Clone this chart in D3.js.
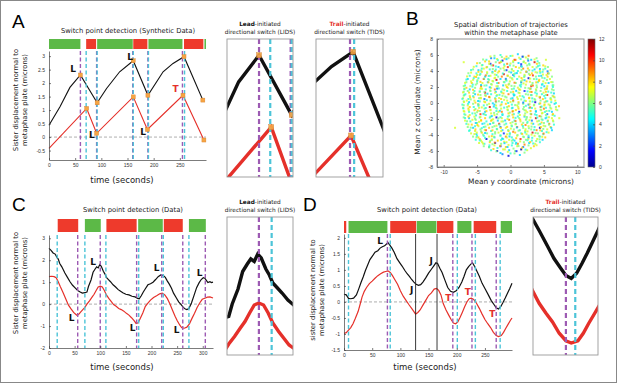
<!DOCTYPE html>
<html>
<head>
<meta charset="utf-8">
<script src="https://cdn.jsdelivr.net/npm/d3@7"></script>
<style>
  body { margin: 0; background: #fff; }
  svg { font-family: "DejaVu Sans", Verdana, sans-serif; }
  .axis text { font-size: 5px; fill: #333; }
  .axis path, .axis line { stroke: #444; stroke-width: 0.7; }
</style>
</head>
<body>
<svg id="fig" width="617" height="383"></svg>
<script>
// ---------- Panel A : synthetic trajectories ----------
var aBlackT = [0, 21, 40, 60, 92, 110, 135, 161, 189, 218, 237, 258, 294];
var aBlackY = [0.44, 1.12, 1.84, 2.3, 1.27, 1.8, 2.42, 2.83, 1.55, 2.42, 2.73, 2.98, 1.37];
var aRedT = [0, 72, 91, 161, 188, 256, 296];
var aRedY = [-0.42, 1.06, 0.14, 1.49, 0.28, 1.55, -0.11];
var aBlackMarkT = [60, 92, 161, 189, 258, 294];
var aRedMarkT = [72, 91, 161, 188, 256, 296];
var aPurple = [60, 91, 160, 189, 255];
var aCyan = [71, 92, 161, 190, 259];
var aBars = [[0, 60, "g"], [71, 90, "r"], [92, 160, "g"], [161, 188, "r"], [190, 255, "g"], [258, 295, "r"], [297, 300, "g"]];
var aLabels = [[46, 2.52, "L", "k"], [155, 2.96, "L", "k"], [82, 0.07, "L", "k"], [180, 0.19, "L", "k"], [242, 1.78, "T", "r"]];
var aXTicks = [0, 50, 100, 150, 200, 250];
var aYTicks = [-0.5, 0, 0.5, 1, 1.5, 2, 2.5, 3];

// ---------- Panel C : data, LIDS ----------
var cBlackT = [0, 4, 8, 12, 15, 18, 21, 25, 31, 36, 41, 46, 51, 56, 60, 65, 70, 74, 77, 82, 86, 90, 93, 96, 99, 102, 106, 109, 112, 116, 120, 125, 130, 135, 139, 144, 150, 156, 162, 168, 173, 176, 180, 184, 188, 193, 198, 203, 208, 213, 218, 223, 227, 231, 235, 239, 243, 248, 253, 257, 262, 266, 269, 273, 278, 283, 288, 293, 297, 301, 304, 307, 310, 314, 317, 320];
var cBlackY = [2.54, 2.45, 2.33, 2.28, 2.15, 2.05, 1.85, 1.7, 1.42, 1.22, 1.02, 0.86, 0.74, 0.62, 0.56, 0.5, 0.52, 0.55, 0.8, 1.1, 1.45, 1.6, 1.7, 1.65, 1.8, 1.72, 1.5, 1.38, 1.22, 1.12, 1.02, 0.88, 0.78, 0.66, 0.6, 0.52, 0.45, 0.42, 0.36, 0.33, 0.26, 0.24, 0.38, 0.55, 0.7, 0.88, 0.93, 1.0, 1.12, 1.25, 1.33, 1.3, 1.22, 1.05, 0.9, 0.72, 0.5, 0.3, 0.1, 0.0, -0.15, -0.22, -0.25, -0.2, 0.05, 0.4, 0.75, 0.98, 1.12, 1.2, 1.18, 1.08, 0.98, 1.02, 0.98, 1.0];
var cRedT = [0, 5, 10, 14, 18, 22, 28, 33, 38, 43, 48, 52, 55, 58, 62, 66, 70, 74, 79, 84, 88, 92, 96, 100, 104, 108, 112, 117, 122, 126, 131, 136, 141, 146, 151, 156, 161, 166, 170, 174, 178, 183, 188, 193, 198, 204, 210, 216, 221, 226, 231, 236, 241, 246, 250, 255, 259, 264, 269, 274, 279, 284, 289, 294, 299, 304, 309, 314, 320];
var cRedY = [1.25, 1.27, 1.25, 1.2, 1.02, 0.8, 0.5, 0.22, -0.05, -0.22, -0.38, -0.46, -0.52, -0.47, -0.35, -0.25, -0.15, 0.0, 0.15, 0.32, 0.45, 0.62, 0.78, 0.82, 0.78, 0.62, 0.42, 0.25, 0.1, -0.02, -0.1, -0.2, -0.25, -0.32, -0.42, -0.5, -0.62, -0.75, -0.88, -0.85, -0.65, -0.4, -0.1, 0.05, 0.18, 0.3, 0.38, 0.47, 0.5, 0.42, 0.25, 0.0, -0.28, -0.55, -0.75, -0.95, -1.08, -1.1, -1.05, -0.9, -0.65, -0.42, -0.15, 0.05, 0.22, 0.27, 0.32, 0.33, 0.28];
var cPurple = [56, 100, 171, 220, 261, 305];
var cCyan = [16, 70, 111, 175, 223, 273];
var cBars = [[17, 57, "r"], [70, 101, "g"], [112, 171, "r"], [174, 222, "g"], [224, 261, "r"], [273, 306, "g"]];
var cLabels = [[86, 1.93, "L", "k"], [44, -0.64, "L", "k"], [163, -1.08, "L", "k"], [210, 1.63, "L", "k"], [249, -1.19, "L", "k"], [294, 1.4, "L", "k"]];
var cXTicks = [0, 50, 100, 150, 200, 250, 300];
var cYTicks = [-2, -1, 0, 1, 2, 3];

// ---------- Panel D : data, TIDS ----------
var dBlackT = [0, 4, 8, 12, 17, 22, 26, 30, 34, 38, 42, 46, 50, 55, 60, 64, 68, 72, 75, 78, 81, 85, 89, 94, 99, 103, 108, 112, 116, 120, 124, 128, 132, 136, 140, 145, 150, 155, 159, 163, 166, 170, 174, 179, 184, 189, 194, 199, 204, 209, 213, 217, 221, 225, 228, 232, 236, 240, 245, 250, 256, 261, 266, 270, 274, 278, 282, 286, 290, 294, 298];
var dBlackY = [0.24, 0.22, 0.11, 0.1, 0.12, 0.22, 0.4, 0.6, 0.78, 0.98, 1.15, 1.32, 1.42, 1.55, 1.6, 1.68, 1.72, 1.75, 1.8, 1.85, 1.78, 1.68, 1.55, 1.35, 1.22, 1.12, 0.98, 0.88, 0.8, 0.7, 0.62, 0.55, 0.52, 0.54, 0.62, 0.75, 0.9, 1.02, 1.12, 1.22, 1.2, 1.05, 0.92, 0.68, 0.45, 0.33, 0.3, 0.35, 0.45, 0.62, 0.8, 1.0, 1.1, 1.18, 1.22, 1.1, 0.95, 0.8, 0.58, 0.42, 0.22, 0.05, -0.08, -0.18, -0.22, -0.15, -0.02, 0.12, 0.27, 0.42, 0.58];
var dRedT = [0, 4, 8, 12, 16, 20, 25, 29, 32, 36, 40, 45, 50, 55, 60, 65, 70, 74, 78, 82, 86, 90, 95, 100, 105, 110, 115, 120, 124, 127, 131, 135, 140, 145, 150, 155, 160, 164, 168, 172, 176, 181, 186, 190, 194, 198, 202, 206, 210, 214, 218, 222, 226, 230, 235, 240, 245, 250, 255, 260, 265, 270, 274, 279, 283, 287, 291, 295, 298];
var dRedY = [-0.98, -0.96, -0.88, -0.8, -0.68, -0.52, -0.3, -0.05, 0.15, 0.33, 0.45, 0.57, 0.65, 0.74, 0.82, 0.88, 0.93, 0.95, 0.97, 0.92, 0.82, 0.7, 0.55, 0.35, 0.18, 0.05, -0.08, -0.2, -0.3, -0.38, -0.33, -0.25, -0.1, 0.05, 0.2, 0.28, 0.4, 0.42, 0.36, 0.22, -0.05, -0.25, -0.42, -0.55, -0.66, -0.68, -0.62, -0.48, -0.32, -0.15, 0.0, 0.1, 0.12, 0.08, -0.04, -0.2, -0.38, -0.55, -0.68, -0.8, -0.95, -1.05, -1.08, -1.05, -0.95, -0.82, -0.7, -0.58, -0.5];
var dPurple = [77, 193, 227, 270];
var dCyan = [8, 82, 201, 233, 277];
var dSolid = [127, 165];
var dBars = [[0, 4, "r"], [8, 77, "g"], [82, 128, "r"], [129, 164, "g"], [165, 194, "r"], [201, 226, "g"], [230, 270, "r"], [278, 298, "g"]];
var dLabels = [[64, 1.9, "L", "k"], [120, 0.37, "J", "k"], [154.5, 1.28, "J", "k"], [185, 0.13, "T", "r"], [219.5, 0.3, "T", "r"], [263, -0.38, "T", "r"]];
var dXTicks = [0, 50, 100, 150, 200, 250];
var dYTicks = [-1.5, -1, -0.5, 0, 0.5, 1, 1.5, 2];

// ---------- Panel B : mean y, mean z, colour value ----------
var bPoints = [
  [-2.4,5.9,6],[-1.5,6.0,5],[-0.6,5.8,8],[0.3,5.9,7],[1.1,6.1,4],[1.9,5.8,6],[2.7,5.9,9],
  [-3.6,5.4,5],[-2.9,5.6,3],[-2.0,5.5,7],[-1.2,5.3,1],[-0.3,5.6,6],[0.6,5.4,10],[1.5,5.5,5],[2.3,5.7,7],[3.1,5.4,4],[3.9,5.6,6],
  [-7.0,5.1,7],[-4.6,5.0,6],[-3.8,5.2,8],[-3.0,4.9,2],[-2.2,5.1,6],[-1.4,5.2,5],[-0.5,4.9,9],[0.4,5.1,6],[1.2,5.0,4],[2.0,5.2,7],[2.8,4.9,5],[3.6,5.1,11],[4.3,5.0,6],[5.3,5.4,7],
  [-5.1,4.6,5],[-4.3,4.7,7],[-3.5,4.5,6],[-2.6,4.7,10],[-1.8,4.5,4],[-0.9,4.6,7],[-0.1,4.7,5],[0.8,4.5,8],[1.6,4.6,3],[2.5,4.7,6],[3.3,4.5,7],[4.1,4.6,5],[4.9,4.7,8],[5.6,4.5,6],
  [-5.6,4.2,6],[-4.8,4.1,4],[-4.0,4.3,7],[-3.1,4.2,5],[-2.3,4.0,8],[-1.5,4.3,6],[-0.6,4.1,2],[0.2,4.2,7],[1.1,4.0,5],[1.9,4.3,9],[2.8,4.1,6],[3.6,4.2,4],[4.4,4.0,7],[5.2,4.3,5],[6.0,4.1,7],
  [-5.9,3.8,7],[-5.1,3.7,5],[-4.3,3.9,8],[-3.5,3.7,6],[-2.7,3.9,4],[-1.9,3.8,7],[-1.0,3.6,11],[-0.2,3.9,6],[0.7,3.7,5],[1.5,3.8,7],[2.4,3.9,3],[3.2,3.7,8],[4.0,3.8,6],[4.8,3.9,5],[5.6,3.7,9],
  [-6.1,3.4,5],[-5.4,3.3,8],[-4.6,3.5,6],[-3.8,3.3,4],[-3.0,3.4,7],[-2.1,3.5,5],[-1.3,3.3,9],[-0.4,3.4,6],[0.4,3.5,3],[1.3,3.3,7],[2.1,3.4,5],[2.9,3.5,8],[3.8,3.3,6],[4.6,3.4,4],[5.4,3.5,7],[6.2,3.3,6],
  [-6.4,3.0,4],[-5.6,2.9,7],[-4.8,3.1,5],[-4.0,3.0,10],[-3.2,2.9,6],[-2.4,3.1,7],[-1.5,3.0,4],[-0.7,2.9,8],[0.2,3.1,6],[1.0,3.0,5],[1.8,2.9,7],[2.7,3.1,1],[3.5,3.0,6],[4.3,2.9,8],[5.1,3.1,5],[5.9,3.0,7],
  [-6.6,2.6,6],[-5.8,2.5,8],[-5.0,2.7,5],[-4.2,2.5,7],[-3.4,2.6,4],[-2.6,2.7,6],[-1.8,2.5,9],[-0.9,2.6,5],[-0.1,2.7,7],[0.8,2.5,6],[1.6,2.6,3],[2.4,2.7,8],[3.3,2.5,6],[4.1,2.6,5],[4.9,2.7,7],[5.7,2.5,4],[6.3,2.6,6],
  [-6.8,2.2,5],[-6.0,2.1,7],[-5.2,2.3,6],[-4.4,2.1,9],[-3.6,2.2,5],[-2.8,2.3,7],[-1.9,2.1,6],[-1.1,2.2,4],[-0.3,2.3,8],[0.6,2.1,6],[1.4,2.2,5],[2.3,2.3,7],[3.1,2.1,10],[3.9,2.2,6],[4.7,2.3,4],[5.5,2.1,7],[6.3,2.2,5],
  [-6.9,1.8,7],[-6.1,1.7,4],[-5.3,1.9,6],[-4.5,1.8,8],[-3.7,1.7,5],[-2.9,1.9,7],[-2.0,1.8,3],[-1.2,1.7,6],[-0.4,1.9,7],[0.5,1.8,5],[1.3,1.7,8],[2.2,1.9,6],[3.0,1.8,4],[3.8,1.7,7],[4.6,1.9,5],[5.4,1.8,9],[6.2,1.7,6],
  [-7.0,1.4,6],[-6.2,1.3,8],[-5.4,1.5,5],[-4.6,1.4,7],[-3.8,1.3,11],[-3.0,1.5,6],[-2.2,1.4,4],[-1.3,1.3,7],[-0.5,1.5,5],[0.4,1.4,8],[1.2,1.3,6],[2.1,1.5,2],[2.9,1.4,7],[3.7,1.3,5],[4.5,1.5,6],[5.3,1.4,8],[6.1,1.3,5],
  [-6.9,1.0,5],[-6.1,0.9,7],[-5.3,1.1,4],[-4.5,1.0,6],[-3.7,0.9,8],[-2.9,1.1,5],[-2.0,1.0,7],[-1.2,0.9,6],[-0.3,1.1,9],[0.6,1.0,5],[1.4,0.9,7],[2.3,1.1,6],[3.1,1.0,4],[3.9,0.9,7],[4.7,1.1,5],[5.5,1.0,10],[6.3,0.9,6],
  [-7.1,0.6,7],[-6.3,0.5,5],[-5.5,0.7,8],[-4.7,0.6,6],[-3.9,0.5,3],[-3.1,0.7,7],[-2.3,0.6,5],[-1.4,0.5,8],[-0.6,0.7,6],[0.3,0.6,4],[1.1,0.5,7],[2.0,0.7,5],[2.8,0.6,8],[3.6,0.5,6],[4.4,0.7,11],[5.2,0.6,5],[6.0,0.5,7],[6.6,0.7,6],
  [-7.0,0.2,6],[-6.2,0.1,4],[-5.4,0.3,7],[-4.6,0.2,5],[-3.8,0.1,8],[-3.0,0.3,6],[-2.2,0.2,10],[-1.3,0.1,5],[-0.5,0.3,7],[0.4,0.2,6],[1.2,0.1,8],[2.1,0.3,5],[2.9,0.2,7],[3.7,0.1,1],[4.5,0.3,6],[5.3,0.2,8],[6.1,0.1,5],[6.7,0.3,7],
  [-7.2,-0.2,5],[-6.4,-0.3,7],[-5.6,-0.1,6],[-4.8,-0.2,9],[-4.0,-0.3,5],[-3.2,-0.1,7],[-2.4,-0.2,4],[-1.5,-0.3,6],[-0.7,-0.1,8],[0.2,-0.2,5],[1.0,-0.3,7],[1.9,-0.1,6],[2.7,-0.2,3],[3.5,-0.3,7],[4.3,-0.1,5],[5.1,-0.2,8],[5.9,-0.3,6],[6.6,-0.1,4],
  [-7.1,-0.6,6],[-6.3,-0.7,8],[-5.5,-0.5,5],[-4.7,-0.6,7],[-3.9,-0.7,6],[-3.1,-0.5,11],[-2.2,-0.6,5],[-1.4,-0.7,7],[-0.5,-0.5,6],[0.3,-0.6,4],[1.2,-0.7,8],[2.0,-0.5,6],[2.8,-0.6,5],[3.7,-0.7,7],[4.5,-0.5,9],[5.3,-0.6,5],[6.1,-0.7,7],[6.8,-0.5,6],
  [-7.0,-1.0,7],[-6.2,-1.1,5],[-5.4,-0.9,8],[-4.6,-1.0,6],[-3.8,-1.1,4],[-3.0,-0.9,7],[-2.1,-1.0,5],[-1.3,-1.1,9],[-0.4,-0.9,6],[0.4,-1.0,7],[1.3,-1.1,2],[2.1,-0.9,6],[3.0,-1.0,8],[3.8,-1.1,5],[4.6,-0.9,7],[5.4,-1.0,6],[6.2,-1.1,4],[7.0,-0.9,6],
  [-6.9,-1.4,5],[-6.1,-1.5,7],[-5.3,-1.3,6],[-4.5,-1.4,10],[-3.7,-1.5,5],[-2.9,-1.3,7],[-2.0,-1.4,6],[-1.2,-1.5,4],[-0.3,-1.3,8],[0.5,-1.4,5],[1.4,-1.5,7],[2.2,-1.3,6],[3.1,-1.4,9],[3.9,-1.5,5],[4.7,-1.3,7],[5.5,-1.4,3],[6.3,-1.5,6],[7.3,-1.9,7],
  [-7.0,-1.8,6],[-6.2,-1.9,4],[-5.4,-1.7,7],[-4.6,-1.8,5],[-3.8,-1.9,8],[-3.0,-1.7,6],[-2.1,-1.8,1],[-1.3,-1.9,7],[-0.4,-1.7,5],[0.4,-1.8,8],[1.3,-1.9,6],[2.1,-1.7,4],[3.0,-1.8,7],[3.8,-1.9,11],[4.6,-1.7,6],[5.4,-1.8,5],[6.2,-1.9,7],
  [-6.8,-2.2,7],[-6.0,-2.3,5],[-5.2,-2.1,6],[-4.4,-2.2,8],[-3.6,-2.3,5],[-2.8,-2.1,7],[-1.9,-2.2,4],[-1.1,-2.3,6],[-0.2,-2.1,9],[0.6,-2.2,5],[1.5,-2.3,7],[2.3,-2.1,6],[3.2,-2.2,3],[4.0,-2.3,7],[4.8,-2.1,5],[5.6,-2.2,8],[6.4,-2.3,6],
  [-6.6,-2.6,5],[-5.8,-2.7,8],[-5.0,-2.5,6],[-4.2,-2.6,4],[-3.4,-2.7,7],[-2.6,-2.5,5],[-1.7,-2.6,10],[-0.9,-2.7,6],[0.0,-2.5,7],[0.8,-2.6,5],[1.7,-2.7,8],[2.5,-2.5,6],[3.4,-2.6,4],[4.2,-2.7,7],[5.0,-2.5,6],[5.8,-2.6,9],[6.5,-2.7,5],
  [-8.3,-3.1,7],[-6.4,-3.0,6],[-5.6,-3.1,4],[-4.8,-2.9,7],[-4.0,-3.0,5],[-3.2,-3.1,8],[-2.4,-2.9,6],[-1.5,-3.0,3],[-0.7,-3.1,7],[0.2,-2.9,5],[1.0,-3.0,9],[1.9,-3.1,6],[2.7,-2.9,7],[3.6,-3.0,5],[4.4,-3.1,1],[5.2,-2.9,6],[6.0,-3.0,8],
  [-6.1,-3.4,5],[-5.3,-3.5,7],[-4.5,-3.3,6],[-3.7,-3.4,10],[-2.9,-3.5,5],[-2.0,-3.3,7],[-1.2,-3.4,4],[-0.3,-3.5,8],[0.5,-3.3,6],[1.4,-3.4,5],[2.2,-3.5,7],[3.1,-3.3,6],[3.9,-3.4,9],[4.7,-3.5,5],[5.5,-3.3,7],[6.2,-3.4,4],
  [-5.9,-3.8,7],[-5.1,-3.9,4],[-4.3,-3.7,8],[-3.5,-3.8,6],[-2.7,-3.9,5],[-1.8,-3.7,7],[-1.0,-3.8,2],[-0.1,-3.9,6],[0.7,-3.7,8],[1.6,-3.8,5],[2.4,-3.9,7],[3.3,-3.7,11],[4.1,-3.8,6],[4.9,-3.9,5],[5.7,-3.7,7],
  [-5.6,-4.2,6],[-4.8,-4.3,8],[-4.0,-4.1,5],[-3.2,-4.2,7],[-2.4,-4.3,4],[-1.5,-4.1,6],[-0.7,-4.2,9],[0.2,-4.3,5],[1.0,-4.1,7],[1.9,-4.2,6],[2.7,-4.3,3],[3.6,-4.1,7],[4.4,-4.2,5],[5.2,-4.3,8],
  [-5.2,-4.6,5],[-4.4,-4.7,7],[-3.6,-4.5,1],[-2.8,-4.6,6],[-1.9,-4.7,8],[-1.1,-4.5,5],[-0.2,-4.6,7],[0.6,-4.7,4],[1.5,-4.5,10],[2.3,-4.6,6],[3.2,-4.7,5],[4.0,-4.5,7],[4.8,-4.6,4],
  [-4.7,-5.0,7],[-3.9,-5.1,5],[-3.1,-4.9,8],[-2.3,-5.0,2],[-1.4,-5.1,6],[-0.6,-4.9,7],[0.3,-5.0,5],[1.1,-5.1,9],[2.0,-4.9,6],[2.8,-5.0,4],[3.7,-5.1,7],[4.4,-4.9,5],
  [-4.0,-5.4,6],[-3.2,-5.5,4],[-2.4,-5.3,7],[-1.5,-5.4,1],[-0.7,-5.5,8],[0.2,-5.3,5],[1.0,-5.4,7],[1.9,-5.5,3],[2.7,-5.3,6],[3.5,-5.4,8],
  [-2.9,-5.9,5],[-2.0,-6.0,1],[-1.1,-5.8,7],[-0.2,-5.9,4],[0.7,-6.0,6],[1.6,-5.8,0],[2.5,-5.9,7],
  [-1.2,-6.4,3],[-0.3,-6.6,1],[0.6,-6.3,6],[1.4,-6.5,4]
];
var bPoints2 = [
  [-3.0,5.82,7],[-2.4,5.6,4],[-1.3,5.75,6],[-0.9,5.55,8],[0.0,5.88,5],[1.3,5.66,7],[1.8,5.79,2],[2.6,5.52,6],
  [-4.1,5.44,6],[-3.2,5.2,8],[-1.9,5.35,5],[-1.4,5.12,7],[-0.6,5.48,4],[0.4,5.26,7],[0.75,5.39,9],[1.95,5.12,6],[2.65,5.3,3],[3.6,5.44,7],[4.05,5.22,5],
  [-5.0,4.97,8],[-4.2,4.75,5],[-3.2,4.9,7],[-2.85,4.7,6],[-1.65,5.03,9],[-0.95,4.81,5],[0.0,4.94,7],[0.45,4.67,6],[1.6,4.85,2],[2.25,4.99,7],[2.85,4.77,6],[3.95,4.9,8],[4.35,4.7,5],
  [-5.5,4.52,7],[-4.3,4.3,5],[-3.6,4.45,8],[-2.65,4.25,6],[-2.2,4.58,5],[-1.05,4.36,7],[-0.4,4.49,10],[0.2,4.22,6],[1.3,4.4,7],[1.7,4.54,5],[2.6,4.32,8],[3.9,4.45,6],[4.4,4.25,4],[5.2,4.58,7],
  [-5.9,4.12,5],[-4.8,3.9,8],[-4.4,4.05,6],[-3.5,3.85,7],[-2.2,4.18,5],[-1.7,3.96,8],[-0.9,4.09,6],[0.1,3.82,4],[0.45,4.0,7],[1.65,4.14,6],[2.35,3.92,8],[3.3,4.05,5],[3.75,3.85,7],[4.9,4.18,6],[5.55,3.96,3],
  [-6.3,3.72,6],[-5.0,3.5,7],[-4.5,3.65,5],[-3.7,3.45,9],[-2.7,3.78,6],[-2.35,3.56,7],[-1.15,3.69,5],[-0.45,3.42,8],[0.5,3.6,6],[0.95,3.74,4],[2.1,3.52,7],[2.75,3.65,6],[3.35,3.45,10],[4.45,3.78,5],[4.85,3.56,7],[5.75,3.69,6],
  [-6.5,3.32,7],[-5.5,3.1,5],[-5.15,3.25,8],[-3.95,3.05,6],[-3.25,3.38,5],[-2.3,3.16,7],[-1.85,3.29,6],[-0.7,3.02,3],[-0.05,3.2,7],[0.55,3.34,5],[1.65,3.12,8],[2.05,3.25,6],[2.95,3.05,7],[4.25,3.38,5],[4.75,3.16,6],[5.55,3.29,8],
  [-6.6,2.92,5],[-5.9,2.7,7],[-4.95,2.85,6],[-4.5,2.65,8],[-3.35,2.98,5],[-2.7,2.76,7],[-2.1,2.89,11],[-1.0,2.62,6],[-0.6,2.8,5],[0.3,2.94,7],[1.6,2.72,6],[2.1,2.85,4],[2.9,2.65,7],[3.9,2.98,5],[4.25,2.76,8],[5.45,2.89,6],[6.1,2.62,7],
  [-6.8,2.52,7],[-5.65,2.3,5],[-5.0,2.45,6],[-4.4,2.25,4],[-3.3,2.58,8],[-2.9,2.36,6],[-2.0,2.49,5],[-0.7,2.22,7],[-0.2,2.4,6],[0.6,2.54,9],[1.6,2.32,5],[1.95,2.45,7],[3.15,2.25,6],[3.85,2.58,8],[4.8,2.36,5],[5.25,2.49,7],[6.4,2.22,6],
  [-7.0,2.12,6],[-6.6,1.9,8],[-5.7,2.05,5],[-4.4,1.85,7],[-3.9,2.18,6],[-3.1,1.96,4],[-2.1,2.09,7],[-1.75,1.82,5],[-0.55,2.0,8],[0.15,2.14,6],[1.1,1.92,7],[1.55,2.05,5],[2.7,1.85,6],[3.35,2.18,9],[3.95,1.96,6],[5.05,2.09,4],[5.45,1.82,7],[6.35,2.0,5],
  [-6.9,1.72,5],[-6.4,1.5,6],[-5.6,1.65,8],[-4.6,1.45,5],[-4.25,1.78,7],[-3.05,1.56,6],[-2.35,1.69,9],[-1.4,1.42,5],[-0.95,1.6,7],[0.2,1.74,6],[0.85,1.52,4],[1.45,1.65,7],[2.55,1.45,5],[2.95,1.78,8],[3.85,1.56,6],[5.15,1.69,7],[5.65,1.42,5],[6.45,1.6,6],
  [-7.1,1.32,7],[-6.75,1.1,5],[-5.55,1.25,6],[-4.85,1.05,8],[-3.9,1.38,6],[-3.45,1.16,4],[-2.3,1.29,7],[-1.65,1.02,5],[-1.05,1.2,8],[0.05,1.34,6],[0.45,1.12,5],[1.35,1.25,7],[2.65,1.05,6],[3.15,1.38,9],[3.95,1.16,5],[4.95,1.29,7],[5.3,1.02,6],[6.5,1.2,4],
  [-7.0,0.92,6],[-6.05,0.7,8],[-5.6,0.85,5],[-4.45,0.65,7],[-3.8,0.98,6],[-3.2,0.76,9],[-2.1,0.89,5],[-1.7,0.62,7],[-0.8,0.8,6],[0.5,0.94,4],[1.0,0.72,7],[1.8,0.85,5],[2.8,0.65,8],[3.15,0.98,6],[4.35,0.76,7],[5.05,0.89,5],[6.0,0.62,6],[6.45,0.8,8],
  [-7.2,0.52,5],[-6.55,0.3,7],[-5.95,0.45,6],[-4.85,0.25,4],[-4.45,0.58,7],[-3.55,0.36,5],[-2.25,0.49,8],[-1.75,0.22,6],[-0.95,0.4,7],[0.05,0.54,5],[0.4,0.32,9],[1.6,0.45,6],[2.3,0.25,7],[3.25,0.58,5],[3.7,0.36,6],[4.85,0.49,8],[5.5,0.22,5],[6.1,0.4,7],
  [-6.95,0.12,7],[-6.35,-0.1,5],[-5.25,0.05,8],[-4.85,-0.15,6],[-3.95,0.18,7],[-2.65,-0.04,4],[-2.15,0.09,6],[-1.35,-0.18,8],[-0.35,0.0,5],[0.0,0.14,7],[1.2,-0.08,6],[1.9,0.05,3],[2.85,-0.15,7],[3.3,0.18,5],[4.45,-0.04,8],[5.1,0.09,6],[5.7,-0.18,7],[6.8,0.0,5],
  [-7.0,-0.28,6],[-6.1,-0.5,8],[-4.8,-0.35,5],[-4.3,-0.55,7],[-3.5,-0.22,6],[-2.5,-0.44,4],[-2.15,-0.31,7],[-0.95,-0.58,5],[-0.25,-0.4,8],[0.7,-0.26,6],[1.15,-0.48,7],[2.3,-0.35,5],[2.95,-0.55,9],[3.55,-0.22,6],[4.65,-0.44,5],[5.05,-0.31,7],[5.95,-0.58,6],[7.25,-0.4,8],
  [-7.05,-0.68,5],[-6.25,-0.9,7],[-5.25,-0.75,6],[-4.9,-0.95,8],[-3.7,-0.62,5],[-3.0,-0.84,7],[-2.05,-0.71,6],[-1.6,-0.98,4],[-0.45,-0.8,7],[0.2,-0.66,5],[0.8,-0.88,8],[1.9,-0.75,6],[2.3,-0.95,7],[3.2,-0.62,5],[4.5,-0.84,6],[5.0,-0.71,9],[5.8,-0.98,5],[6.8,-0.8,7],
  [-6.9,-1.08,7],[-5.7,-1.3,5],[-5.0,-1.15,6],[-4.05,-1.35,4],[-3.6,-1.02,8],[-2.45,-1.24,6],[-1.8,-1.11,7],[-1.2,-1.38,5],[-0.1,-1.2,6],[0.3,-1.06,9],[1.2,-1.28,5],[2.5,-1.15,7],[3.0,-1.35,6],[3.8,-1.02,4],[4.8,-1.24,7],[5.15,-1.11,5],[6.35,-1.38,8],
  [-6.75,-1.48,6],[-6.3,-1.7,8],[-5.15,-1.55,5],[-4.5,-1.75,7],[-3.9,-1.42,6],[-2.8,-1.64,4],[-2.4,-1.51,7],[-1.5,-1.78,5],[-0.2,-1.6,6],[0.3,-1.46,8],[1.1,-1.68,5],[2.1,-1.55,7],[2.45,-1.75,6],[3.65,-1.42,5],[4.35,-1.64,9],[5.3,-1.51,6],[5.75,-1.78,7],[6.6,-1.6,5],
  [-6.8,-1.88,5],[-5.7,-2.1,7],[-5.3,-1.95,6],[-4.4,-2.15,8],[-3.1,-1.82,5],[-2.6,-2.04,7],[-1.8,-1.91,6],[-0.8,-2.18,4],[-0.45,-2.0,7],[0.75,-1.86,5],[1.45,-2.08,8],[2.4,-1.95,6],[2.85,-2.15,7],[4.0,-1.82,5],[4.65,-2.04,6],[5.25,-1.91,4],[6.35,-2.18,7],
  [-6.5,-2.28,6],[-5.2,-2.5,4],[-4.7,-2.35,7],[-3.9,-2.55,5],[-2.9,-2.22,8],[-2.55,-2.44,6],[-1.35,-2.31,7],[-0.65,-2.58,5],[0.3,-2.4,6],[0.75,-2.26,9],[1.9,-2.48,6],[2.55,-2.35,5],[3.15,-2.55,7],[4.25,-2.22,6],[4.65,-2.44,8],[5.55,-2.31,5],
  [-6.3,-2.68,7],[-5.3,-2.9,5],[-4.95,-2.75,8],[-3.75,-2.95,6],[-3.05,-2.62,4],[-2.1,-2.84,7],[-1.65,-2.71,5],[-0.5,-2.98,8],[0.15,-2.8,6],[0.75,-2.66,7],[1.85,-2.88,5],[2.25,-2.75,9],[3.15,-2.95,6],[4.45,-2.62,5],[4.95,-2.84,7],[5.75,-2.71,6],
  [-5.95,-3.08,6],[-5.25,-3.3,8],[-4.3,-3.15,5],[-3.85,-3.35,7],[-2.7,-3.02,6],[-2.05,-3.24,5],[-1.45,-3.11,8],[-0.35,-3.38,6],[0.05,-3.2,7],[0.95,-3.06,4],[2.25,-3.28,7],[2.75,-3.15,6],[3.55,-3.35,5],[4.55,-3.02,8],[4.9,-3.24,6],[6.1,-3.11,4],
  [-6.2,-3.48,5],[-5.05,-3.7,7],[-4.4,-3.55,6],[-3.8,-3.75,4],[-2.7,-3.42,8],[-2.3,-3.64,6],[-1.4,-3.51,7],[-0.1,-3.78,5],[0.4,-3.6,9],[1.2,-3.46,6],[2.2,-3.68,5],[2.55,-3.55,7],[3.75,-3.75,6],[4.45,-3.42,8],[5.4,-3.64,5],
  [-5.4,-3.88,7],[-5.0,-4.1,5],[-4.1,-3.95,6],[-2.8,-4.15,8],[-2.3,-3.82,6],[-1.5,-4.04,5],[-0.5,-3.91,7],[-0.15,-4.18,4],[1.05,-4.0,6],[1.75,-3.86,8],[2.7,-4.08,5],[3.15,-3.95,7],[4.3,-4.15,6],[4.95,-3.82,9],
  [-5.1,-4.28,6],[-4.6,-4.5,8],[-3.8,-4.35,5],[-2.8,-4.55,7],[-2.45,-4.22,6],[-1.25,-4.44,4],[-0.55,-4.31,7],[0.4,-4.58,5],[0.85,-4.4,8],[2.0,-4.26,6],[2.65,-4.48,7],[3.25,-4.35,5],[4.35,-4.55,6],[4.75,-4.22,7],
  [-4.6,-4.68,5],[-4.25,-4.9,7],[-3.05,-4.75,6],[-2.35,-4.95,9],[-1.4,-4.62,5],[-0.95,-4.84,7],[0.2,-4.71,6],[0.85,-4.98,4],[1.45,-4.8,7],[2.55,-4.66,5],[2.95,-4.88,8],[3.85,-4.75,6],
  [-4.1,-5.08,7],[-3.15,-5.3,5],[-2.7,-5.15,6],[-1.55,-5.35,8],[-0.9,-5.02,4],[-0.3,-5.24,7],[0.8,-5.11,5],[1.2,-5.38,6],[2.1,-5.2,9],[3.4,-5.06,5],[3.9,-5.28,7],
  [-3.2,-5.55,6],[-2.55,-5.75,8],[-1.95,-5.62,5],[-0.85,-5.8,7],[-0.45,-5.5,4],[0.45,-5.7,6],[1.75,-5.58,8],[2.25,-5.82,5],[3.05,-5.65,7],
  [-2.1,-6.05,6],[-1.5,-6.25,4],[-0.4,-6.1,7],[0.0,-6.3,5],[0.9,-6.02,2],[2.1,-6.2,6]
];
var bXTicks = [-10, -5, 0, 5, 10];
var bYTicks = [-8, -6, -4, -2, 0, 2, 4, 6, 8];
var bCTicks = [0, 2, 4, 6, 8, 10, 12];

// ---------- drawing ----------
var GREEN = "#5cb947", RED = "#ee3a2c", LRED = "#e5302a", PURPLE = "#9d5bb3",
    CYAN = "#4cc4d8", ORANGE = "#f6a443", GREY = "#999";
var svg = d3.select("#fig");
var defs = svg.append("defs");

svg.append("rect").attr("x", 0.5).attr("y", 0.5).attr("width", 616).attr("height", 382)
  .attr("fill", "none").attr("stroke", "#888");

function pairs(t, v) { return d3.zip(t, v); }
function fmt(d) { return String(d); }

function addText(x, y, s, size, anchor) {
  return svg.append("text").attr("x", x).attr("y", y).attr("text-anchor", anchor || "middle")
    .style("font-size", size + "px").attr("fill", "#222").text(s);
}

function yLabel(x, y, lines, size, gap) {
  lines.forEach(function(s, i) {
    svg.append("text")
      .attr("transform", "translate(" + (x + i * gap) + "," + y + ") rotate(-90)")
      .attr("text-anchor", "middle").attr("dominant-baseline", "central")
      .style("font-size", size + "px").attr("fill", "#222").text(s);
  });
}

function letter(x, y, s) {
  svg.append("text").attr("x", x).attr("y", y).text(s)
    .style("font-family", "'Liberation Sans', Arial, sans-serif").style("font-size", "19px");
}

function switchLines(g, x, times, y0, y1, color, w, dash) {
  g.selectAll(null).data(times).enter().append("line")
    .attr("x1", function(d) { return x(d); }).attr("x2", function(d) { return x(d); })
    .attr("y1", y0).attr("y2", y1)
    .attr("stroke", color).attr("stroke-width", w).attr("stroke-dasharray", dash);
}

function valueAt(t, ts, vs) { return vs[ts.indexOf(t)]; }

function tracePanel(o) {
  var g = svg.append("g");
  var x = d3.scaleLinear().domain(o.xDom).range(o.xRange);
  var y = d3.scaleLinear().domain(o.yDom).range(o.yRange);

  g.selectAll(null).data(o.bars).enter().append("rect")
    .attr("x", function(d) { return x(d[0]); })
    .attr("width", function(d) { return x(d[1]) - x(d[0]); })
    .attr("y", o.barY).attr("height", o.barH)
    .attr("fill", function(d) { return d[2] == "g" ? GREEN : RED; });

  g.append("line").attr("x1", o.xRange[0]).attr("x2", o.xRange[1])
    .attr("y1", y(0)).attr("y2", y(0))
    .attr("stroke", GREY).attr("stroke-width", 0.8).attr("stroke-dasharray", "3,2");

  var line = d3.line().x(function(d) { return x(d[0]); }).y(function(d) { return y(d[1]); });
  g.append("path").datum(pairs(o.blackT, o.blackY)).attr("d", line)
    .attr("fill", "none").attr("stroke", "#111").attr("stroke-width", o.lw);
  g.append("path").datum(pairs(o.redT, o.redY)).attr("d", line)
    .attr("fill", "none").attr("stroke", LRED).attr("stroke-width", o.lw);

  switchLines(g, x, o.purple, o.yRange[1], o.yRange[0], PURPLE, 1.4, "4,2.5");
  switchLines(g, x, o.cyan, o.yRange[1], o.yRange[0], CYAN, 1.4, "4,2.5");
  if (o.solid) {
    g.selectAll(null).data(o.solid).enter().append("line")
      .attr("x1", function(d) { return x(d); }).attr("x2", function(d) { return x(d); })
      .attr("y1", o.yRange[1]).attr("y2", o.yRange[0])
      .attr("stroke", "#222").attr("stroke-width", 0.9);
  }

  if (o.marks) {
    var pts = o.marks[0].map(function(t) { return [t, valueAt(t, o.blackT, o.blackY)]; })
      .concat(o.marks[1].map(function(t) { return [t, valueAt(t, o.redT, o.redY)]; }));
    g.selectAll(null).data(pts).enter().append("rect")
      .attr("x", function(d) { return x(d[0]) - 2; }).attr("y", function(d) { return y(d[1]) - 2; })
      .attr("width", 4).attr("height", 4).attr("fill", ORANGE)
      .attr("stroke", "#d8822e").attr("stroke-width", 0.4);
  }

  g.selectAll(null).data(o.labels).enter().append("text")
    .attr("x", function(d) { return x(d[0]); }).attr("y", function(d) { return y(d[1]); })
    .attr("text-anchor", "middle").attr("dominant-baseline", "central")
    .style("font-size", "9px").style("font-weight", "bold")
    .attr("fill", function(d) { return d[3] == "r" ? LRED : "#111"; })
    .text(function(d) { return d[2]; });

  g.append("g").attr("class", "axis").attr("transform", "translate(0," + o.yRange[0] + ")")
    .call(d3.axisBottom(x).tickValues(o.xTicks).tickFormat(fmt)
      .tickSizeInner(-2).tickSizeOuter(0).tickPadding(3));
  g.append("g").attr("class", "axis").attr("transform", "translate(" + o.xRange[0] + ",0)")
    .call(d3.axisLeft(y).tickValues(o.yTicks).tickFormat(fmt)
      .tickSizeInner(-2).tickSizeOuter(0).tickPadding(4));
}

var clipN = 0;
function insetPanel(o) {
  var g = svg.append("g");
  var x = d3.scaleLinear().domain(o.xDom).range([o.box[0], o.box[1]]);
  var y = d3.scaleLinear().domain(o.yDom).range([o.box[3], o.box[2]]);
  var id = "clip" + (clipN++);
  defs.append("clipPath").attr("id", id).append("rect")
    .attr("x", o.box[0]).attr("y", o.box[2])
    .attr("width", o.box[1] - o.box[0]).attr("height", o.box[3] - o.box[2]);
  var inner = g.append("g").attr("clip-path", "url(#" + id + ")");
  var line = d3.line().x(function(d) { return x(d[0]); }).y(function(d) { return y(d[1]); });
  inner.append("path").datum(pairs(o.blackT, o.blackY)).attr("d", line)
    .attr("fill", "none").attr("stroke", "#111").attr("stroke-width", 3.4);
  inner.append("path").datum(pairs(o.redT, o.redY)).attr("d", line)
    .attr("fill", "none").attr("stroke", LRED).attr("stroke-width", 3.4);
  switchLines(inner, x, o.purple, o.box[2], o.box[3], PURPLE, 2.2, "5,3");
  switchLines(inner, x, o.cyan, o.box[2], o.box[3], CYAN, 2.2, "5,3");
  if (o.marks) {
    var pts = o.marks[0].map(function(t) { return [t, valueAt(t, o.blackT, o.blackY)]; })
      .concat(o.marks[1].map(function(t) { return [t, valueAt(t, o.redT, o.redY)]; }));
    inner.selectAll(null).data(pts).enter().append("rect")
      .attr("x", function(d) { return x(d[0]) - 2.5; }).attr("y", function(d) { return y(d[1]) - 2.5; })
      .attr("width", 5).attr("height", 5).attr("fill", ORANGE).attr("fill-opacity", 0.9)
      .attr("stroke", "#c97a2e").attr("stroke-width", 0.4);
  }
  g.append("rect").attr("x", o.box[0]).attr("y", o.box[2])
    .attr("width", o.box[1] - o.box[0]).attr("height", o.box[3] - o.box[2])
    .attr("fill", "none").attr("stroke", "#999").attr("stroke-width", 0.9);

  var cx = (o.box[0] + o.box[1]) / 2;
  var t = g.append("text").attr("x", cx).attr("y", o.box[2] - 13).attr("text-anchor", "middle")
    .style("font-size", "5.8px").attr("fill", "#222");
  t.append("tspan").style("font-weight", "bold").attr("fill", o.kindColor).text(o.kind);
  t.append("tspan").text("-initiated");
  g.append("text").attr("x", cx).attr("y", o.box[2] - 5).attr("text-anchor", "middle")
    .style("font-size", "5.8px").attr("fill", "#222").text(o.line2);
}

// ---- A ----
letter(12, 28, "A");
addText(128, 33, "Switch point detection (Synthetic Data)", 6.8);
tracePanel({xDom: [0, 300], xRange: [49, 206], yDom: [-0.85, 3.19], yRange: [160, 51],
  bars: aBars, barY: 39, barH: 10, blackT: aBlackT, blackY: aBlackY, redT: aRedT, redY: aRedY,
  purple: aPurple, cyan: aCyan, marks: [aBlackMarkT, aRedMarkT], labels: aLabels,
  xTicks: aXTicks, yTicks: aYTicks, lw: 1.1});
yLabel(16, 100, ["Sister displacement normal to", "metaphase plate (microns)"], 6.8, 9);
addText(122, 183, "time (seconds)", 8.5);
insetPanel({box: [227, 293, 39, 177], xDom: [28.6, 93.3], yDom: [0.2, 2.58],
  blackT: aBlackT, blackY: aBlackY, redT: aRedT, redY: aRedY, purple: aPurple, cyan: aCyan,
  marks: [aBlackMarkT, aRedMarkT], kind: "Lead", kindColor: "#111", line2: "directional switch (LIDS)"});
insetPanel({box: [316, 383, 39, 177], xDom: [222, 287], yDom: [0.84, 3.2],
  blackT: aBlackT, blackY: aBlackY, redT: aRedT, redY: aRedY, purple: aPurple, cyan: aCyan,
  marks: [aBlackMarkT, aRedMarkT], kind: "Trail", kindColor: LRED, line2: "directional switch (TIDS)"});

// ---- B ----
letter(406, 25, "B");
addText(511, 27, "Spatial distribution of trajectories", 6.8);
addText(511, 35, "within the metaphase plate", 6.8);
(function() {
  var g = svg.append("g");
  var x = d3.scaleLinear().domain([-11, 11]).range([437, 584]);
  var y = d3.scaleLinear().domain([-8, 8]).range([167, 39]);
  var jetStops = [0, 1.5, 4.5, 7.5, 10.5, 12];
  var jet = d3.scaleLinear().domain(jetStops)
    .range(["#00008f", "#0000ff", "#00ffff", "#ffff00", "#ff0000", "#800000"]);
  var pts = bPoints.concat(bPoints2);
  g.selectAll(null).data(pts).enter().append("rect")
    .attr("x", function(d) { return x(d[0]) - 1; }).attr("y", function(d) { return y(d[1]) - 1; })
    .attr("width", 2).attr("height", 2)
    .attr("fill", function(d) { return jet(d[2]); }).attr("fill-opacity", 0.8);
  g.append("g").attr("class", "axis").attr("transform", "translate(0,167)")
    .call(d3.axisBottom(x).tickValues(bXTicks).tickFormat(fmt).tickSizeInner(-2).tickSizeOuter(0).tickPadding(3));
  g.append("g").attr("class", "axis").attr("transform", "translate(437,0)")
    .call(d3.axisLeft(y).tickValues(bYTicks).tickFormat(fmt).tickSizeInner(-2).tickSizeOuter(0).tickPadding(4));
  g.append("rect").attr("x", 437).attr("y", 39).attr("width", 147).attr("height", 128)
    .attr("fill", "none").attr("stroke", "#888").attr("stroke-width", 0.9);

  // colour bar
  var grad = defs.append("linearGradient").attr("id", "jet")
    .attr("x1", 0).attr("y1", 1).attr("x2", 0).attr("y2", 0);
  jetStops.forEach(function(v) {
    grad.append("stop").attr("offset", v / 12).attr("stop-color", jet(v));
  });
  var cy = d3.scaleLinear().domain([0, 12]).range([167, 39]);
  g.append("rect").attr("x", 588).attr("y", 39).attr("width", 7).attr("height", 128)
    .attr("fill", "url(#jet)").attr("stroke", "#666").attr("stroke-width", 0.6);
  g.append("g").attr("class", "axis").attr("transform", "translate(595,0)")
    .call(d3.axisRight(cy).tickValues(bCTicks).tickFormat(fmt).tickSizeInner(-2).tickSizeOuter(0).tickPadding(4))
    .select(".domain").remove();
})();
addText(521, 184, "Mean y coordinate (microns)", 7.4);
yLabel(417, 102, ["Mean z coordinate (microns)"], 7.4, 0);

// ---- C ----
letter(12, 211, "C");
addText(133, 212, "Switch point detection (Data)", 6.8);
tracePanel({xDom: [0, 320], xRange: [49, 213], yDom: [-2, 3.15], yRange: [348, 235],
  bars: cBars, barY: 219, barH: 13, blackT: cBlackT, blackY: cBlackY, redT: cRedT, redY: cRedY,
  purple: cPurple, cyan: cCyan, labels: cLabels, xTicks: cXTicks, yTicks: cYTicks, lw: 1.2});
yLabel(16, 283, ["Sister displacement normal to", "metaphase plate (microns)"], 6.8, 9);
addText(122, 370, "time (seconds)", 8.5);
insetPanel({box: [227, 293, 217, 355], xDom: [72.5, 129.4], yDom: [-0.22, 2.54],
  blackT: cBlackT, blackY: cBlackY, redT: cRedT, redY: cRedY, purple: cPurple, cyan: cCyan,
  kind: "Lead", kindColor: "#111", line2: "directional switch (LIDS)"});

// ---- D ----
letter(303, 211, "D");
addText(427, 212, "Switch point detection (Data)", 6.8);
tracePanel({xDom: [0, 298], xRange: [344, 512], yDom: [-1.5, 2.12], yRange: [350, 234],
  bars: dBars, barY: 221, barH: 12, blackT: dBlackT, blackY: dBlackY, redT: dRedT, redY: dRedY,
  purple: dPurple, cyan: dCyan, solid: dSolid, labels: dLabels, xTicks: dXTicks, yTicks: dYTicks, lw: 1.2});
yLabel(313, 290, ["sister displacement  normal to", "metaphase plate (microns)"], 6.8, 9.4);
addText(425, 370, "time (seconds)", 8.5);
insetPanel({box: [533, 598, 217, 355], xDom: [245.4, 294], yDom: [-1.24, 0.6],
  blackT: dBlackT, blackY: dBlackY, redT: dRedT, redY: dRedY, purple: dPurple, cyan: dCyan,
  kind: "Trail", kindColor: LRED, line2: "directional switch (TIDS)"});
</script>
</body>
</html>
